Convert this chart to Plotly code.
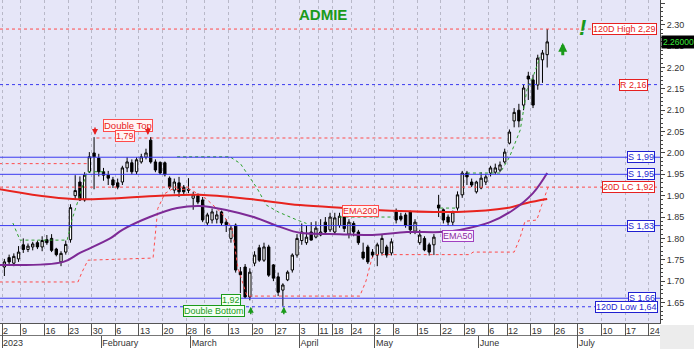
import plotly.graph_objects as go
import pandas as pd

# ---------------- trading calendar (ATHEX 2023) ----------------
holidays = ["2023-01-06", "2023-02-27", "2023-04-07", "2023-04-10", "2023-04-14",
            "2023-04-17", "2023-05-01", "2023-06-05"]
cal = [d for d in pd.bdate_range("2023-01-02", "2023-07-31") if d.strftime("%Y-%m-%d") not in holidays]

# ---------------- OHLC data ----------------
opens = [1.733,1.755,1.742,1.752,1.785,1.774,1.780,1.790,1.780,1.797,1.800,1.775,1.745,1.768,
         1.797,1.900,1.932,1.890,1.956,2.000,1.988,1.956,1.948,1.937,1.930,1.932,1.965,1.977,
         1.956,1.979,1.990,2.030,1.979,1.978,1.977,1.941,1.913,1.930,1.920,1.915,1.894,1.900,
         1.890,1.836,1.843,1.845,1.862,1.838,1.800,1.831,1.722,1.733,1.663,1.742,1.778,1.749,
         1.780,1.738,1.710,1.679,1.703,1.726,1.761,1.795,1.790,1.815,1.803,1.808,1.838,1.820,
         1.815,1.830,1.850,1.810,1.835,1.815,1.768,1.780,1.768,1.761,1.766,1.780,1.766,1.862,
         1.852,1.855,1.862,1.817,1.790,1.800,1.785,1.785,1.878,1.867,1.850,1.838,1.871,1.902,
         1.953,1.932,1.909,1.918,1.932,1.953,1.955,1.960,1.979,2.023,2.075,2.100,2.112,2.180,
         2.171,2.159,2.218,2.230]
highs = [1.752,1.762,1.765,1.782,1.800,1.788,1.792,1.795,1.805,1.808,1.810,1.778,1.770,1.795,
         1.880,1.948,1.945,1.955,2.002,2.037,1.998,1.965,1.958,1.944,1.940,1.970,1.990,1.985,
         1.990,1.998,2.010,2.037,1.985,1.980,1.980,1.945,1.940,1.944,1.925,1.941,1.909,1.905,
         1.897,1.860,1.870,1.865,1.865,1.845,1.830,1.835,1.733,1.740,1.730,1.770,1.785,1.790,
         1.785,1.740,1.720,1.695,1.725,1.765,1.810,1.835,1.830,1.838,1.840,1.845,1.850,1.860,
         1.860,1.860,1.855,1.845,1.840,1.820,1.790,1.785,1.775,1.790,1.810,1.785,1.800,1.870,
         1.860,1.860,1.865,1.845,1.820,1.805,1.790,1.810,1.902,1.870,1.856,1.865,1.910,1.958,
         1.958,1.940,1.935,1.955,1.950,1.970,1.975,1.980,2.010,2.055,2.105,2.115,2.160,2.190,
         2.183,2.230,2.241,2.290]
lows = [1.712,1.738,1.735,1.745,1.766,1.768,1.772,1.775,1.770,1.785,1.768,1.758,1.735,1.762,
        1.790,1.890,1.888,1.886,1.953,1.915,1.945,1.935,1.925,1.918,1.915,1.925,1.955,1.950,
        1.950,1.975,1.985,1.975,1.955,1.950,1.945,1.915,1.905,1.897,1.900,1.906,1.867,1.880,
        1.838,1.830,1.835,1.835,1.830,1.815,1.790,1.720,1.672,1.660,1.655,1.735,1.745,1.745,
        1.710,1.700,1.665,1.642,1.700,1.720,1.755,1.785,1.785,1.795,1.800,1.805,1.810,1.815,
        1.810,1.825,1.815,1.800,1.805,1.785,1.750,1.740,1.755,1.735,1.760,1.755,1.760,1.835,
        1.840,1.825,1.810,1.810,1.785,1.770,1.760,1.761,1.850,1.835,1.830,1.830,1.865,1.895,
        1.925,1.920,1.905,1.915,1.925,1.945,1.950,1.955,1.975,2.020,2.060,2.060,2.100,2.124,
        2.105,2.148,2.164,2.200]
closes = [1.745,1.745,1.758,1.768,1.774,1.782,1.787,1.780,1.795,1.790,1.772,1.762,1.765,1.786,
          1.872,1.912,1.890,1.948,1.991,1.991,1.956,1.948,1.941,1.925,1.920,1.965,1.979,1.956,
          1.984,1.991,2.000,1.979,1.960,1.953,1.949,1.920,1.932,1.909,1.909,1.913,1.902,1.885,
          1.843,1.855,1.862,1.855,1.836,1.832,1.824,1.726,1.715,1.663,1.721,1.761,1.749,1.780,
          1.714,1.707,1.674,1.691,1.721,1.761,1.800,1.815,1.803,1.796,1.824,1.815,1.815,1.850,
          1.848,1.852,1.823,1.838,1.815,1.790,1.754,1.745,1.761,1.785,1.800,1.761,1.792,1.843,
          1.845,1.831,1.820,1.838,1.808,1.773,1.768,1.803,1.871,1.843,1.838,1.862,1.902,1.953,
          1.944,1.925,1.932,1.941,1.944,1.965,1.965,1.972,2.002,2.049,2.095,2.075,2.152,2.173,
          2.112,2.222,2.234,2.260]
idx = list(range(len(opens)))

# ---------------- indicator lines (x = trading-day index) ----------------
ema200_x = [-1, 14.5, 33, 41.4, 52, 62.6, 72.5, 79.6, 96, 106.5, 110.7, 115]
ema200_y = [1.915, 1.892, 1.900, 1.902, 1.892, 1.878, 1.871, 1.866, 1.862, 1.871, 1.883, 1.892]
ema50_x = [-1, 12.5, 16, 22.4, 25, 30.8, 36.6, 41.4, 47.2, 52.8, 58.4, 62.6, 71, 78, 85.3, 92.3, 96.5, 102.9, 107.7, 112, 115]
ema50_y = [1.738, 1.745, 1.766, 1.800, 1.820, 1.850, 1.871, 1.876, 1.866, 1.850, 1.827, 1.813, 1.810, 1.808, 1.815, 1.815, 1.820, 1.838, 1.866, 1.906, 1.953]
lc_x = [-1, 15.6, 16.4, 17.7, 31.5, 31.9, 32.5, 34, 35.5, 39.3, 42.5, 46, 48.2, 49.5, 51.4, 75.3, 76.6, 77.9, 78.7, 98.6, 99.3, 108, 109.2, 110.3, 112.8, 113.9, 115.2]
lc_y = [1.698, 1.698, 1.720, 1.749, 1.754, 1.800, 1.870, 1.905, 1.915, 1.915, 1.895, 1.860, 1.825, 1.730, 1.665, 1.665, 1.700, 1.755, 1.762, 1.762, 1.768, 1.768, 1.800, 1.840, 1.843, 1.880, 1.920]
trail_x = [1.8, 3.3, 13.3, 14.3, 16, 17.5, 21, None, 36.6, 47.8, 50, 53.5, 55.5, 58, 62, 64, None,
           71, 82, None, 92.3, 95.5, None, 98, 105, 107, 109.3, 110.7, 112, 113.5]
trail_y = [1.836, 1.796, 1.796, 1.843, 1.902, 1.956, 1.956, None, 1.991, 1.991, 1.975, 1.918, 1.878, 1.862, 1.843, 1.835, None,
           1.850, 1.850, None, 1.871, 1.871, None, 1.953, 1.953, 1.990, 2.054, 2.148, 2.178, 2.225]

# ---------------- levels ----------------
level_values = [2.29, 2.16, 1.99, 1.95, 1.92, 1.83, 1.66, 1.64]
level_labels = ["120D High 2,29", "R 2,16", "S 1,99", "S 1,95", "20D LC 1,92", "S 1,83", "S 1,66", "120D Low 1,64"]
level_colors = ["#ff4b4b", "#3a3af0", "#3a3af0", "#3a3af0", "#ff4b4b", "#3a3af0", "#3a3af0", "#3a3af0"]
level_dash = ["dot", "dot", "solid", "solid", "dot", "solid", "solid", "dot"]
label_colors = ["#e62020", "#e62020", "#1f1fd0", "#1f1fd0", "#e62020", "#1f1fd0", "#1f1fd0", "#1f1fd0"]
label_right = [657, 648, 655, 655, 655, 655, 656, 658]
partial_levels = [(2.035, 19.5, 105.6), (1.975, -1, 18.5)]

last_price = 2.26
RED = "#ff4b4b"
GREEN = "#1a9a1a"
FONT = "Arial, Liberation Sans, sans-serif"

# ---------------- axis ticks from calendar ----------------
week_vals, week_text, month_vals, month_text = [], [], [], []
month_names = {1: "2023", 2: "February", 3: "March", 4: "April", 5: "May", 6: "June", 7: "July"}
prev = None
for i, d in enumerate(cal):
    if prev is None or d.isocalendar()[1] != prev.isocalendar()[1]:
        week_vals.append(i - 0.5)
        week_text.append(str(d.day))
    if prev is None or d.month != prev.month:
        month_vals.append(i - 0.5)
        month_text.append(month_names[d.month])
    prev = d

X0, X1 = -0.93, 138.9
Y0, Y1 = 1.602, 2.358

fig = go.Figure()
fig.add_trace(go.Candlestick(
    x=idx, open=opens, high=highs, low=lows, close=closes,
    increasing=dict(line=dict(color="black", width=1), fillcolor="white"),
    decreasing=dict(line=dict(color="black", width=1), fillcolor="black"),
    whiskerwidth=0, showlegend=False, hoverinfo="skip"))
fig.add_trace(go.Scatter(x=lc_x, y=lc_y, mode="lines", line=dict(color=RED, width=1, dash="dot"), showlegend=False))
fig.add_trace(go.Scatter(x=trail_x, y=trail_y, mode="lines", line=dict(color="#2ca02c", width=1, dash="dot"), showlegend=False, connectgaps=False))
fig.add_trace(go.Scatter(x=ema200_x, y=ema200_y, mode="lines", line=dict(color="#e8231e", width=2, shape="spline"), showlegend=False))
fig.add_trace(go.Scatter(x=ema50_x, y=ema50_y, mode="lines", line=dict(color="#7d2a96", width=2, shape="spline"), showlegend=False))
# dummy trace to carry the month axis
fig.add_trace(go.Scatter(x=[X0, X1], y=[Y0, Y0], xaxis="x2", mode="markers", marker=dict(opacity=0), showlegend=False, hoverinfo="skip"))

shapes = []
for v, c, dsh in zip(level_values, level_colors, level_dash):
    shapes.append(dict(type="line", xref="paper", x0=0, x1=1, yref="y", y0=v, y1=v,
                       line=dict(color=c, width=1, dash=dsh), layer="above"))
for v, a, b in partial_levels:
    shapes.append(dict(type="line", xref="x", x0=a, x1=b, yref="y", y0=v, y1=v,
                       line=dict(color=RED, width=1, dash="dot"), layer="below"))
# gray corner under the price axis
shapes.append(dict(type="rect", xref="paper", x0=1.0, x1=1.06, yref="paper", y0=-0.05, y1=0.03,
                   fillcolor="#ececec", line=dict(width=0), layer="below"))

ann = []
for v, t, c, r in zip(level_values, level_labels, label_colors, label_right):
    ann.append(dict(x=r / 660, xref="paper", xanchor="right", y=v, yref="y", yanchor="middle",
                    text=t, showarrow=False, font=dict(family=FONT, size=9, color=c),
                    bgcolor="white", bordercolor=c, borderwidth=1, borderpad=0))
ann.append(dict(x=1.0015, xref="paper", xanchor="left", y=last_price, yref="y", yanchor="middle",
                text="2.26000", showarrow=False, font=dict(family=FONT, size=8.5, color="#39e639"),
                bgcolor="black", borderpad=1))
ann.append(dict(x=0.489, xref="paper", xanchor="center", y=0.958, yref="paper", yanchor="middle",
                text="<b>ADMIE</b>", showarrow=False, font=dict(family=FONT, size=15, color=GREEN)))
ann.append(dict(x=122.4, y=2.293, text="<b><i>!</i></b>", showarrow=False, font=dict(family=FONT, size=22, color=GREEN)))
ann.append(dict(x=118.3, y=2.258, ax=0, ay=14, text="", showarrow=True, arrowhead=2, arrowsize=0.6,
                arrowwidth=3, arrowcolor=GREEN))
# double top
ann.append(dict(x=26.1, y=2.064, text="Double Top", showarrow=False, font=dict(family=FONT, size=9.5, color="#e62020"),
                bgcolor="#fff4f4", bordercolor=RED, borderwidth=1, borderpad=0))
ann.append(dict(x=25.5, y=2.039, text="1,79", showarrow=False, font=dict(family=FONT, size=9, color="#e62020"),
                bgcolor="#fff4f4", bordercolor=RED, borderwidth=1, borderpad=0))
for xx in [19.2, 30.4]:
    ann.append(dict(x=xx, y=2.042, ax=0, ay=-9, text="", showarrow=True, arrowhead=2, arrowsize=0.8,
                    arrowwidth=1.5, arrowcolor="#e62020"))
# double bottom
ann.append(dict(x=44.5, y=1.631, text="Double Bottom", showarrow=False, font=dict(family=FONT, size=9, color=GREEN),
                bgcolor="#f4fff4", bordercolor=GREEN, borderwidth=1, borderpad=0))
ann.append(dict(x=48.1, y=1.656, text="1,92", showarrow=False, font=dict(family=FONT, size=9, color=GREEN),
                bgcolor="#f4fff4", bordercolor=GREEN, borderwidth=1, borderpad=0))
for xx in [52.2, 59.2]:
    ann.append(dict(x=xx, y=1.640, ax=0, ay=9, text="", showarrow=True, arrowhead=2, arrowsize=0.8,
                    arrowwidth=1.5, arrowcolor=GREEN))
ann.append(dict(x=75.4, y=1.864, text="EMA200", showarrow=False, font=dict(family=FONT, size=9, color="#e62020"),
                bgcolor="#fff4f4", bordercolor=RED, borderwidth=1, borderpad=0))
ann.append(dict(x=96.1, y=1.805, text="EMA50", showarrow=False, font=dict(family=FONT, size=9, color="#8a2aa0"),
                bgcolor="#fbf2ff", bordercolor="#a040c0", borderwidth=1, borderpad=0))

fig.update_layout(
    width=694, height=349, margin=dict(l=0, r=34, t=0, b=14),
    paper_bgcolor="white", plot_bgcolor="#e6e6f8",
    font=dict(family=FONT, size=9, color="#333"),
    showlegend=False, shapes=shapes, annotations=ann,
    xaxis=dict(range=[X0, X1], tickvals=week_vals, ticktext=week_text, ticks="outside", ticklen=12,
               tickcolor="#555", tickwidth=1, tickangle=0, ticklabelposition="outside right", ticklabelstandoff=-1,
               tickfont=dict(size=9, color="#333"), showgrid=True, gridcolor="#b8b8c8", griddash="dot",
               gridwidth=1, showline=True, linecolor="#555", zeroline=False, rangeslider=dict(visible=False),
               anchor="y"),
    xaxis2=dict(range=[X0, X1], overlaying="x", anchor="free", position=0, side="bottom",
                tickvals=month_vals, ticktext=month_text, ticks="outside", ticklen=12, tickcolor="#555",
                tickangle=0, ticklabelposition="outside right", ticklabelstandoff=-1, tickfont=dict(size=9, color="#333"),
                showgrid=False, showline=True, linecolor="#777", zeroline=False),
    yaxis=dict(domain=[12 / 335, 1], range=[Y0, Y1], side="right", tick0=0, dtick=0.05, tickformat=".2f",
               ticks="outside", ticklen=4, tickcolor="#444", showgrid=False, showline=True, linecolor="#444",
               zeroline=False, tickfont=dict(size=9, color="#333"),
               minor=dict(dtick=0.01, ticks="outside", ticklen=2, tickcolor="#444", showgrid=False)),
)
fig.write_html("out.html")
